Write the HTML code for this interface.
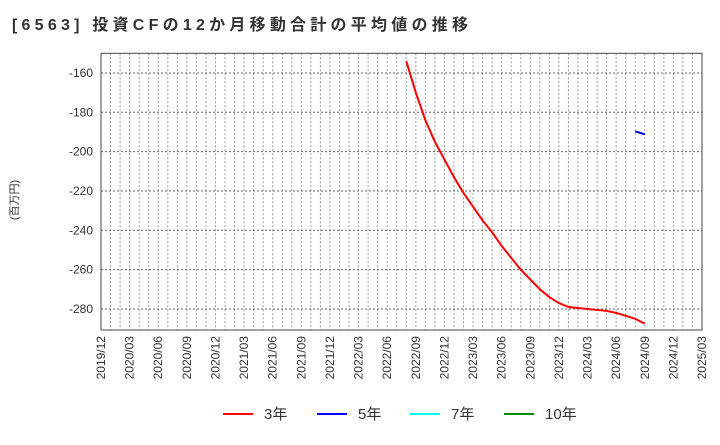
<!DOCTYPE html>
<html><head><meta charset="utf-8"><style>
body{margin:0;background:#fff;font-family:"Liberation Sans","Noto Sans CJK JP",sans-serif;}
svg text{font-family:"Liberation Sans","Noto Sans CJK JP",sans-serif;}
</style></head><body>
<svg id="c" width="720" height="440">
<text x="12" y="30" font-size="16" font-weight="bold" fill="#333" textLength="456" lengthAdjust="spacing">[6563]  投資CFの12か月移動合計の平均値の推移</text>
<text transform="translate(18,200) rotate(-90)" text-anchor="middle" font-size="11" fill="#333">(百万円)</text>
<g id="grid"></g><g id="axes"></g><g id="series"></g>
<g>
<g><line x1="223" y1="414" x2="253" y2="414" stroke="#f00" stroke-width="2"/><text x="264" y="419" font-size="15" fill="#333">3年</text></g>
<g><line x1="317" y1="414" x2="347" y2="414" stroke="#00f" stroke-width="2"/><text x="358" y="419" font-size="15" fill="#333">5年</text></g>
<g><line x1="410" y1="414" x2="440" y2="414" stroke="#0ff" stroke-width="2"/><text x="451" y="419" font-size="15" fill="#333">7年</text></g>
<g><line x1="504" y1="414" x2="534" y2="414" stroke="#080" stroke-width="2"/><text x="545" y="419" font-size="15" fill="#333">10年</text></g>
</g>
</svg>
<script>
const xTickLabels=["2019/12","2020/03","2020/06","2020/09","2020/12","2021/03","2021/06","2021/09","2021/12","2022/03","2022/06","2022/09","2022/12","2023/03","2023/06","2023/09","2023/12","2024/03","2024/06","2024/09","2024/12","2025/03"];
const yTicks=[-160,-180,-200,-220,-240,-260,-280];
const red3yStart=32; // months after 2019/12 (2022/08)
const red3y=[-154,-170,-184,-195,-204,-213,-221,-228,-235,-241,-248,-254,-260,-265,-270,-274,-277,-279,-279.5,-280,-280.5,-281,-282,-283.5,-285,-287.5];
const blue5yStart=56; // 2024/08
const blue5y=[-189.7,-191.2];
const L=101,R=702,T=53.3,B=330,yMax=-150,yMin=-290.7,nMonths=63;
const ns="http://www.w3.org/2000/svg";
const X=m=>L+(R-L)*m/nMonths;
const Y=v=>T+(B-T)*(yMax-v)/(yMax-yMin);
function mk(p,t,a){const e=document.createElementNS(ns,t);for(const k in a)e.setAttribute(k,a[k]);p.appendChild(e);return e;}
const g=document.getElementById('grid'),ax=document.getElementById('axes'),s=document.getElementById('series');
for(let m=1;m<nMonths;m++){const l=mk(g,'line',{x1:X(m),x2:X(m),y1:T,y2:B,stroke:'#999','stroke-dasharray':'2,2','stroke-width':1});

}
yTicks.forEach(v=>{const l=mk(g,'line',{x1:L,x2:R,y1:Y(v),y2:Y(v),stroke:'#666','stroke-dasharray':'2,2','stroke-width':1});


const t=mk(ax,'text',{x:L-8,y:Y(v)+4,'text-anchor':'end','font-size':12,fill:'#333'});t.textContent=v;

});
const f=mk(ax,'rect',{x:L,y:T,width:R-L,height:B-T,fill:'none',stroke:'#444','stroke-width':1});


xTickLabels.forEach((lb,i)=>{const x=X(i*3);const t=mk(ax,'text',{transform:`translate(${x+4},${B+6}) rotate(-90)`,'text-anchor':'end','font-size':12,fill:'#333'});t.textContent=lb;

});
function line(arr,start,col,name){const p=mk(s,'polyline',{points:arr.map((v,i)=>X(start+i)+','+Y(v)).join(' '),fill:'none',stroke:col,'stroke-width':2,'stroke-linejoin':'round'});

}
line(red3y,red3yStart,'#f00','line-3y');
line(blue5y,blue5yStart,'#00f','line-5y');
</script>
</body></html>
